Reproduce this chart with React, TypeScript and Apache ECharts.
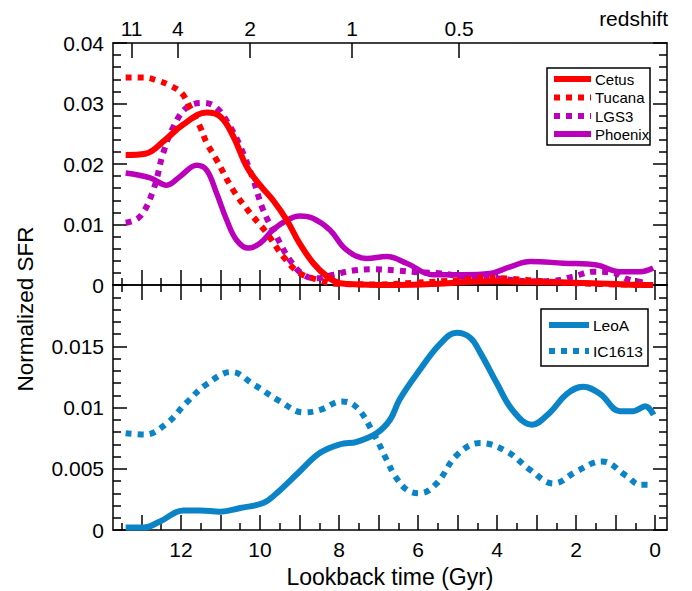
import React, { useEffect, useRef } from "react";
import * as echarts from "echarts";

// ---- data (lookback time in Gyr, normalized SFR) ----
const cetusT = [13.4, 12.9, 12.4, 11.95, 11.35, 11.0, 10.67, 10.34, 10.0, 9.67, 9.32, 9.0, 8.65, 8.3, 7.97, 7.5, 6.5, 5.5, 4.8, 4.0, 3.2, 2.4, 1.6, 0.8, 0.05];
const cetusV = [0.0215, 0.0217, 0.024, 0.0265, 0.0285, 0.0278, 0.0245, 0.0196, 0.0165, 0.014, 0.0107, 0.0069, 0.0036, 0.0014, 0.0003, 0.0001, 0.0, 0.0002, 0.0005, 0.0006, 0.0005, 0.0004, 0.0003, 0.0001, 0.0];

const tucanaT = [13.4, 12.95, 12.6, 12.28, 11.98, 11.77, 11.52, 11.35, 11.1, 10.68, 10.25, 9.83, 9.41, 9.0, 8.5, 8.1, 7.0, 6.0, 5.0, 4.3, 3.6, 2.8, 2.0, 1.0, 0.05];
const tucanaV = [0.0343, 0.0343, 0.0338, 0.033, 0.0317, 0.0293, 0.0262, 0.0235, 0.0207, 0.0157, 0.0119, 0.0086, 0.0047, 0.002, 0.0008, 0.0002, 0.0001, 0.0004, 0.0008, 0.0012, 0.001, 0.0006, 0.0003, 0.0001, 0.0];

const lgs3T = [13.4, 13.04, 12.7, 12.45, 12.2, 11.86, 11.44, 11.1, 10.76, 10.5, 10.17, 9.92, 9.58, 9.24, 8.9, 8.56, 8.14, 7.64, 7.13, 6.54, 6.0, 5.4, 4.86, 4.0, 3.16, 2.57, 2.07, 1.56, 1.05, 0.72, 0.2];
const lgs3V = [0.0103, 0.0113, 0.0157, 0.0218, 0.026, 0.0293, 0.0301, 0.0293, 0.0262, 0.0229, 0.0174, 0.0124, 0.008, 0.0041, 0.0017, 0.0011, 0.0017, 0.0024, 0.0026, 0.0024, 0.0021, 0.0019, 0.0014, 0.0011, 0.0006, 0.0007, 0.0014, 0.0022, 0.002, 0.001, 0.0003];

const phoenixT = [13.4, 12.78, 12.36, 12.03, 11.6, 11.35, 11.1, 10.84, 10.59, 10.3, 10.0, 9.67, 9.32, 8.99, 8.65, 8.23, 7.81, 7.3, 6.79, 6.29, 5.62, 4.86, 4.18, 3.67, 3.16, 2.32, 1.48, 0.89, 0.38, 0.05];
const phoenixV = [0.0185, 0.0177, 0.0165, 0.0179, 0.0198, 0.019, 0.0152, 0.0107, 0.0074, 0.0061, 0.0069, 0.0091, 0.0107, 0.0114, 0.011, 0.0091, 0.0058, 0.0044, 0.0047, 0.0036, 0.0017, 0.0017, 0.0019, 0.003, 0.0039, 0.0036, 0.0033, 0.0022, 0.0022, 0.0028];

const leoAT = [13.4, 12.95, 12.53, 11.94, 11.52, 11.01, 10.5, 9.92, 9.58, 8.99, 8.48, 7.97, 7.55, 7.05, 6.71, 6.46, 5.95, 5.44, 5.02, 4.68, 4.43, 4.01, 3.59, 3.12, 2.66, 2.24, 1.82, 1.39, 0.89, 0.55, 0.25, 0.04];
const leoAV = [0.0002, 0.0002, 0.0007, 0.0016, 0.0016, 0.0015, 0.0018, 0.0022, 0.003, 0.0048, 0.0063, 0.007, 0.0072, 0.0079, 0.009, 0.0107, 0.0131, 0.0152, 0.0161, 0.0157, 0.0145, 0.012, 0.0097, 0.0086, 0.0096, 0.0111, 0.0117, 0.0111, 0.0097, 0.0097, 0.0101, 0.0094];

const ic1613T = [13.4, 12.91, 12.36, 11.86, 11.35, 10.72, 10.17, 9.49, 8.9, 8.48, 7.93, 7.55, 7.13, 6.79, 6.6, 6.29, 5.95, 5.53, 5.02, 4.43, 3.75, 3.16, 2.57, 1.98, 1.35, 0.72, 0.38, 0.04];
const ic1613V = [0.0079, 0.0078, 0.0087, 0.0104, 0.0119, 0.0129, 0.0119, 0.0105, 0.0096, 0.0098, 0.0105, 0.01, 0.0079, 0.0057, 0.0045, 0.0033, 0.003, 0.0038, 0.0061, 0.0071, 0.0064, 0.0049, 0.0038, 0.0048, 0.0056, 0.0044, 0.0037, 0.0037];

const topNames = ["Cetus", "Tucana", "LGS3", "Phoenix"];
const bottomNames = ["LeoA", "IC1613"];

// ---- tick labels ----
const redshiftLabels = ["11", "4", "2", "1", "0.5"];
const redshiftLookback = [13.25, 12.08, 10.25, 7.67, 4.96];
const timeLabels = [0, 2, 4, 6, 8, 10, 12];
const timeMajor = [0, 1, 2, 3, 4, 5, 6, 7, 8, 9, 10, 11, 12, 13];
const timeMinor = [0.5, 1.5, 2.5, 3.5, 4.5, 5.5, 6.5, 7.5, 8.5, 9.5, 10.5, 11.5, 12.5, 13.5];

const RED = "#ff0000";
const MAG = "#bb00bb";
const BLUE = "#0b84c7";
const FONT = "'Liberation Sans', Arial, sans-serif";

const zip = (t: number[], v: number[]) => t.map((x, i) => [x, v[i]]);

export default function App() {
  const ref = useRef<HTMLDivElement>(null);
  useEffect(() => {
    if (!ref.current) return;
    const chart = echarts.init(ref.current, null, { renderer: "svg" });
    const X_MIN = -0.3;
    const X_MAX = 13.72;
    const axLine = { show: true, onZero: false, lineStyle: { color: "#000", width: 1.5 } };
    const tickStyle = { color: "#000", width: 1.5 };
    const xBase = (grid: number, pos: string) => ({
      gridIndex: grid,
      type: "value",
      position: pos,
      min: X_MIN,
      max: X_MAX,
      inverse: true,
      splitLine: { show: false },
    });
    const xAxes: any[] = [
      { ...xBase(0, "bottom"), axisLine: axLine, axisTick: { show: true, inside: true, length: 15, customValues: timeMajor, lineStyle: tickStyle }, axisLabel: { show: false } },
      { ...xBase(0, "bottom"), axisLine: { show: false, onZero: false }, axisTick: { show: true, inside: true, length: 7, customValues: timeMinor, lineStyle: tickStyle }, axisLabel: { show: false } },
      {
        ...xBase(0, "top"),
        axisLine: axLine,
        axisTick: { show: true, inside: true, length: 15, customValues: redshiftLookback, lineStyle: tickStyle },
        axisLabel: {
          show: true,
          customValues: redshiftLookback,
          margin: 4,
          fontSize: 21,
          fontFamily: FONT,
          color: "#000",
          formatter: (v: number) => {
            const i = redshiftLookback.findIndex((x) => Math.abs(x - v) < 1e-6);
            return i >= 0 ? redshiftLabels[i] : "";
          },
        },
      },
      { ...xBase(1, "top"), axisLine: axLine, axisTick: { show: true, inside: true, length: 15, customValues: timeMajor, lineStyle: tickStyle }, axisLabel: { show: false } },
      { ...xBase(1, "top"), axisLine: { show: false, onZero: false }, axisTick: { show: true, inside: true, length: 7, customValues: timeMinor, lineStyle: tickStyle }, axisLabel: { show: false } },
      {
        ...xBase(1, "bottom"),
        axisLine: axLine,
        axisTick: { show: true, inside: true, length: 15, customValues: timeMajor, lineStyle: tickStyle },
        axisLabel: { show: true, customValues: timeLabels, margin: 9, fontSize: 21, fontFamily: FONT, color: "#000" },
        name: "Lookback time (Gyr)",
        nameLocation: "middle",
        nameGap: 35,
        nameTextStyle: { fontSize: 23, fontFamily: FONT, color: "#000" },
      },
      { ...xBase(1, "bottom"), axisLine: { show: false, onZero: false }, axisTick: { show: true, inside: true, length: 7, customValues: timeMinor, lineStyle: tickStyle }, axisLabel: { show: false } },
    ];
    const yBase = (grid: number, pos: string, max: number, interval: number, labels: boolean, hideMax: boolean) => ({
      gridIndex: grid,
      type: "value",
      position: pos,
      min: 0,
      max,
      interval,
      splitLine: { show: false },
      axisLine: axLine,
      axisTick: { show: true, inside: true, length: 14, lineStyle: tickStyle },
      minorTick: { show: true, splitNumber: 5, length: 8, lineStyle: tickStyle },
      axisLabel: {
        show: labels,
        margin: 9,
        fontSize: 21,
        fontFamily: FONT,
        color: "#000",
        showMaxLabel: !hideMax,
      },
    });
    const yAxes: any[] = [
      yBase(0, "left", 0.04, 0.01, true, false),
      yBase(0, "right", 0.04, 0.01, false, false),
      yBase(1, "left", 0.02, 0.005, true, true),
      yBase(1, "right", 0.02, 0.005, false, true),
    ];
    const line = (name: string, t: number[], v: number[], color: string, dotted: boolean, xi: number, yi: number, width: number) => ({
      type: "line",
      name,
      xAxisIndex: xi,
      yAxisIndex: yi,
      data: zip(t, v),
      smooth: 0.4,
      symbol: "none",
      showSymbol: false,
      clip: true,
      lineStyle: { color, width, type: dotted ? [6, 6] : "solid", cap: "butt" },
    });
    const legendItem = (x1: number, x2: number, y: number, color: string, dotted: boolean, text: string, tx: number, fs: number) => [
      { type: "line", z: 101, shape: { x1, y1: y, x2, y2: y }, style: { stroke: color, lineWidth: 6, lineDash: dotted ? [6, 6] : null } },
      { type: "text", z: 101, x: tx, y, style: { text, fontSize: fs, fontFamily: FONT, fill: "#000", align: "left", verticalAlign: "middle" } },
    ];
    chart.setOption({
      animation: false,
      backgroundColor: "#fff",
      grid: [
        { left: 113, top: 43, width: 554, height: 242 },
        { left: 113, top: 285, width: 554, height: 245 },
      ],
      xAxis: xAxes,
      yAxis: yAxes,
      series: [
        line(topNames[3], phoenixT, phoenixV, MAG, false, 0, 0, 5.5),
        line(topNames[2], lgs3T, lgs3V, MAG, true, 0, 0, 6),
        line(topNames[1], tucanaT, tucanaV, RED, true, 0, 0, 6),
        line(topNames[0], cetusT, cetusV, RED, false, 0, 0, 6),
        line(bottomNames[0], leoAT, leoAV, BLUE, false, 5, 2, 6),
        line(bottomNames[1], ic1613T, ic1613V, BLUE, true, 5, 2, 6),
      ],
      graphic: [
        { type: "text", x: 668, y: 18, style: { text: "redshift", fontSize: 21, fontFamily: FONT, fill: "#000", align: "right", verticalAlign: "middle" } },
        { type: "text", x: 25, y: 309, rotation: Math.PI / 2, style: { text: "Normalized SFR", fontSize: 22.5, fontFamily: FONT, fill: "#000", align: "center", verticalAlign: "middle" } },
        { type: "rect", z: 100, shape: { x: 547, y: 68, width: 103, height: 77 }, style: { fill: "#fff", stroke: "#000", lineWidth: 1.5 } },
        ...legendItem(554, 591, 79, RED, false, topNames[0], 595, 15),
        ...legendItem(554, 591, 97.5, RED, true, topNames[1], 595, 15),
        ...legendItem(554, 591, 116, MAG, true, topNames[2], 595, 15),
        ...legendItem(554, 591, 134, MAG, false, topNames[3], 595, 15),
        { type: "rect", z: 100, shape: { x: 541, y: 309, width: 107, height: 57 }, style: { fill: "#fff", stroke: "#000", lineWidth: 1.5 } },
        ...legendItem(549, 589, 325, BLUE, false, bottomNames[0], 593, 15.5),
        ...legendItem(549, 589, 351, BLUE, true, bottomNames[1], 593, 15.5),
      ],
    } as any);
    return () => chart.dispose();
  }, []);
  return <div ref={ref} style={{ position: "absolute", left: 0, top: 0, width: 692, height: 591 }} />;
}
